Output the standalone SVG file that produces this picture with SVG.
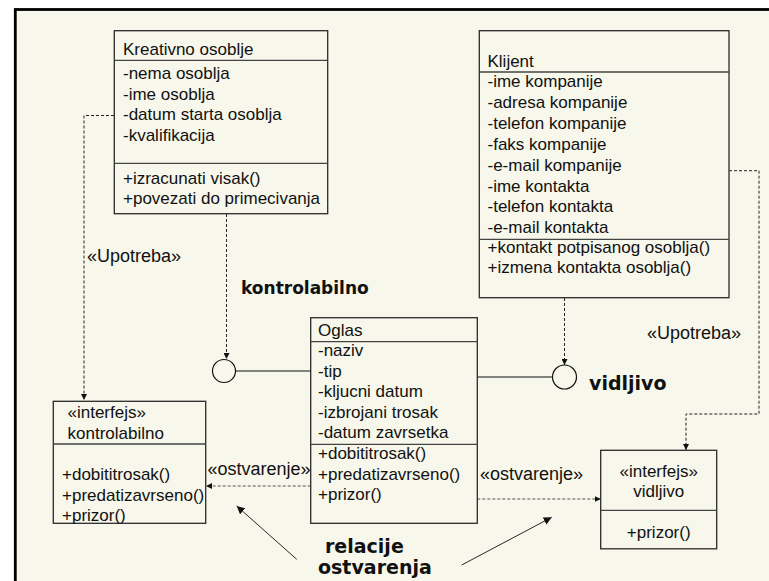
<svg xmlns="http://www.w3.org/2000/svg" width="769" height="581" viewBox="0 0 769 581">
<defs>
<style>
.box{fill:none;stroke:#2a2a2a;stroke-width:1.3}
.div{stroke:#444;stroke-width:1.3}
.t{font-family:"Liberation Sans",Arial,sans-serif;font-size:17px;fill:#111}
.lbl{font-family:"Liberation Sans",Arial,sans-serif;font-size:18px;fill:#111}
.b{font-family:"DejaVu Sans",Verdana,sans-serif;font-weight:bold;fill:#111}
.dep{fill:none;stroke:#222;stroke-width:1;stroke-dasharray:3,2}
.real{fill:none;stroke:#555;stroke-width:1.2;stroke-dasharray:3,2}
.solid{fill:none;stroke:#111;stroke-width:1.2}
.ann{fill:none;stroke:#111;stroke-width:0.9}
</style>
<marker id="ah" viewBox="0 0 8 8" refX="8" refY="4" markerWidth="6" markerHeight="6" markerUnits="userSpaceOnUse" orient="auto">
<path d="M0,0 L8,4 L0,8 z" fill="#111"/>
</marker>
<marker id="ah2" viewBox="0 0 8 8" refX="8" refY="4" markerWidth="8" markerHeight="8" markerUnits="userSpaceOnUse" orient="auto">
<path d="M0,0 L8,4 L0,8 z" fill="#111"/>
</marker>
</defs>
<rect x="0" y="0" width="769" height="581" fill="#ffffff"/>
<rect x="15.3" y="9.5" width="800" height="640" fill="#F7F7EB" stroke="#000" stroke-width="2.8"/>

<g id="connectors">
<polyline class="dep" points="114,115.5 84,115.5 84,400" marker-end="url(#ah)"/>
<line class="dep" x1="226.5" y1="214" x2="226.5" y2="359" marker-end="url(#ah)"/>
<line class="solid" x1="236" y1="371" x2="310.7" y2="371"/>
<line class="dep" x1="564.5" y1="298" x2="564.5" y2="365" marker-end="url(#ah)"/>
<line class="solid" x1="477.3" y1="377" x2="552.5" y2="377"/>
<polyline class="dep" points="729,170.7 759,170.7 759,414 686,414 686,450" marker-end="url(#ah)"/>
<line class="real" x1="310.7" y1="486" x2="206" y2="486" marker-end="url(#ah)"/>
<line class="real" x1="477.3" y1="499" x2="600.7" y2="499" marker-end="url(#ah)"/>
<line class="ann" x1="296.7" y1="559.3" x2="236.7" y2="506" marker-end="url(#ah2)"/>
<line class="ann" x1="461.7" y1="565" x2="551.7" y2="517.3" marker-end="url(#ah2)"/>
<text class="lbl" x="87" y="262" font-size="19">«Upotreba»</text>
<text class="lbl" x="647" y="339" font-size="19">«Upotreba»</text>
<text class="lbl" x="207.5" y="474.5" font-size="17.8">«ostvarenje»</text>
<text class="lbl" x="480" y="479.5" font-size="17.8">«ostvarenje»</text>
</g>

<g id="kreativno">
<rect class="box" x="114.3" y="30.7" width="213.4" height="183"/>
<line class="div" x1="114.3" y1="60.3" x2="327.7" y2="60.3"/>
<line class="div" x1="114.3" y1="163.3" x2="327.7" y2="163.3"/>
<text class="t" x="123" y="54.5">Kreativno osoblje</text>
<text class="t" x="123" y="79">-nema osoblja</text>
<text class="t" x="123" y="99.5">-ime osoblja</text>
<text class="t" x="123" y="120">-datum starta osoblja</text>
<text class="t" x="123" y="140.5">-kvalifikacija</text>
<text class="t" x="123" y="184">+izracunati visak()</text>
<text class="t" x="123" y="203.5">+povezati do primecivanja</text>
</g>

<g id="klijent">
<rect class="box" x="479.3" y="30.7" width="249.7" height="267"/>
<line class="div" x1="479.3" y1="72" x2="729" y2="72"/>
<line class="div" x1="479.3" y1="239.3" x2="729" y2="239.3"/>
<text class="t" x="487.5" y="66.5">Klijent</text>
<text class="t" x="487.5" y="87.3">-ime kompanije</text>
<text class="t" x="487.5" y="108.2">-adresa kompanije</text>
<text class="t" x="487.5" y="129">-telefon kompanije</text>
<text class="t" x="487.5" y="149.9">-faks kompanije</text>
<text class="t" x="487.5" y="170.7">-e-mail kompanije</text>
<text class="t" x="487.5" y="191.6">-ime kontakta</text>
<text class="t" x="487.5" y="212.4">-telefon kontakta</text>
<text class="t" x="487.5" y="233.3">-e-mail kontakta</text>
<text class="t" x="487.5" y="253.3">+kontakt potpisanog osoblja()</text>
<text class="t" x="487.5" y="273.3">+izmena kontakta osoblja()</text>
</g>

<g id="oglas">
<rect class="box" x="310.7" y="317.7" width="166.6" height="205.6"/>
<line class="div" x1="310.7" y1="341.7" x2="477.3" y2="341.7"/>
<line class="div" x1="310.7" y1="444.3" x2="477.3" y2="444.3"/>
<text class="t" x="318" y="335.5">Oglas</text>
<text class="t" x="318" y="356">-naziv</text>
<text class="t" x="318" y="376.5">-tip</text>
<text class="t" x="318" y="397">-kljucni datum</text>
<text class="t" x="318" y="417.5">-izbrojani trosak</text>
<text class="t" x="318" y="438">-datum zavrsetka</text>
<text class="t" x="318" y="459">+dobititrosak()</text>
<text class="t" x="318" y="480">+predatizavrseno()</text>
<text class="t" x="318" y="500">+prizor()</text>
</g>

<g id="iface-kontrolabilno-lollipop">
<circle cx="224" cy="371" r="11.5" fill="#F7F7EB" stroke="#111" stroke-width="1.2"/>
<text class="b" x="241" y="293.5" font-size="17">kontrolabilno</text>
</g>

<g id="iface-vidljivo-lollipop">
<circle cx="564.5" cy="377" r="12" fill="#F7F7EB" stroke="#111" stroke-width="1.2"/>
<text class="b" x="589" y="390" font-size="19">vidljivo</text>
</g>

<g id="kontrolabilno">
<rect class="box" x="53.3" y="401.3" width="152.4" height="122"/>
<line class="div" x1="53.3" y1="444" x2="205.7" y2="444"/>
<text class="t" x="67.5" y="418">«interfejs»</text>
<text class="t" x="67.5" y="438.5">kontrolabilno</text>
<text class="t" x="62" y="480">+dobititrosak()</text>
<text class="t" x="62" y="500.5">+predatizavrseno()</text>
<text class="t" x="62" y="520.5">+prizor()</text>
</g>

<g id="vidljivo">
<rect class="box" x="600.7" y="450.3" width="116" height="98.5"/>
<line class="div" x1="600.7" y1="510.3" x2="716.7" y2="510.3"/>
<text class="t" x="658.7" y="477" text-anchor="middle">«interfejs»</text>
<text class="t" x="658.7" y="497" text-anchor="middle">vidljivo</text>
<text class="t" x="658.7" y="538" text-anchor="middle">+prizor()</text>
</g>

<g id="annotation">
<text class="b" x="325" y="553" font-size="19">relacije</text>
<text class="b" x="318" y="573.5" font-size="19">ostvarenja</text>
</g>
</svg>
